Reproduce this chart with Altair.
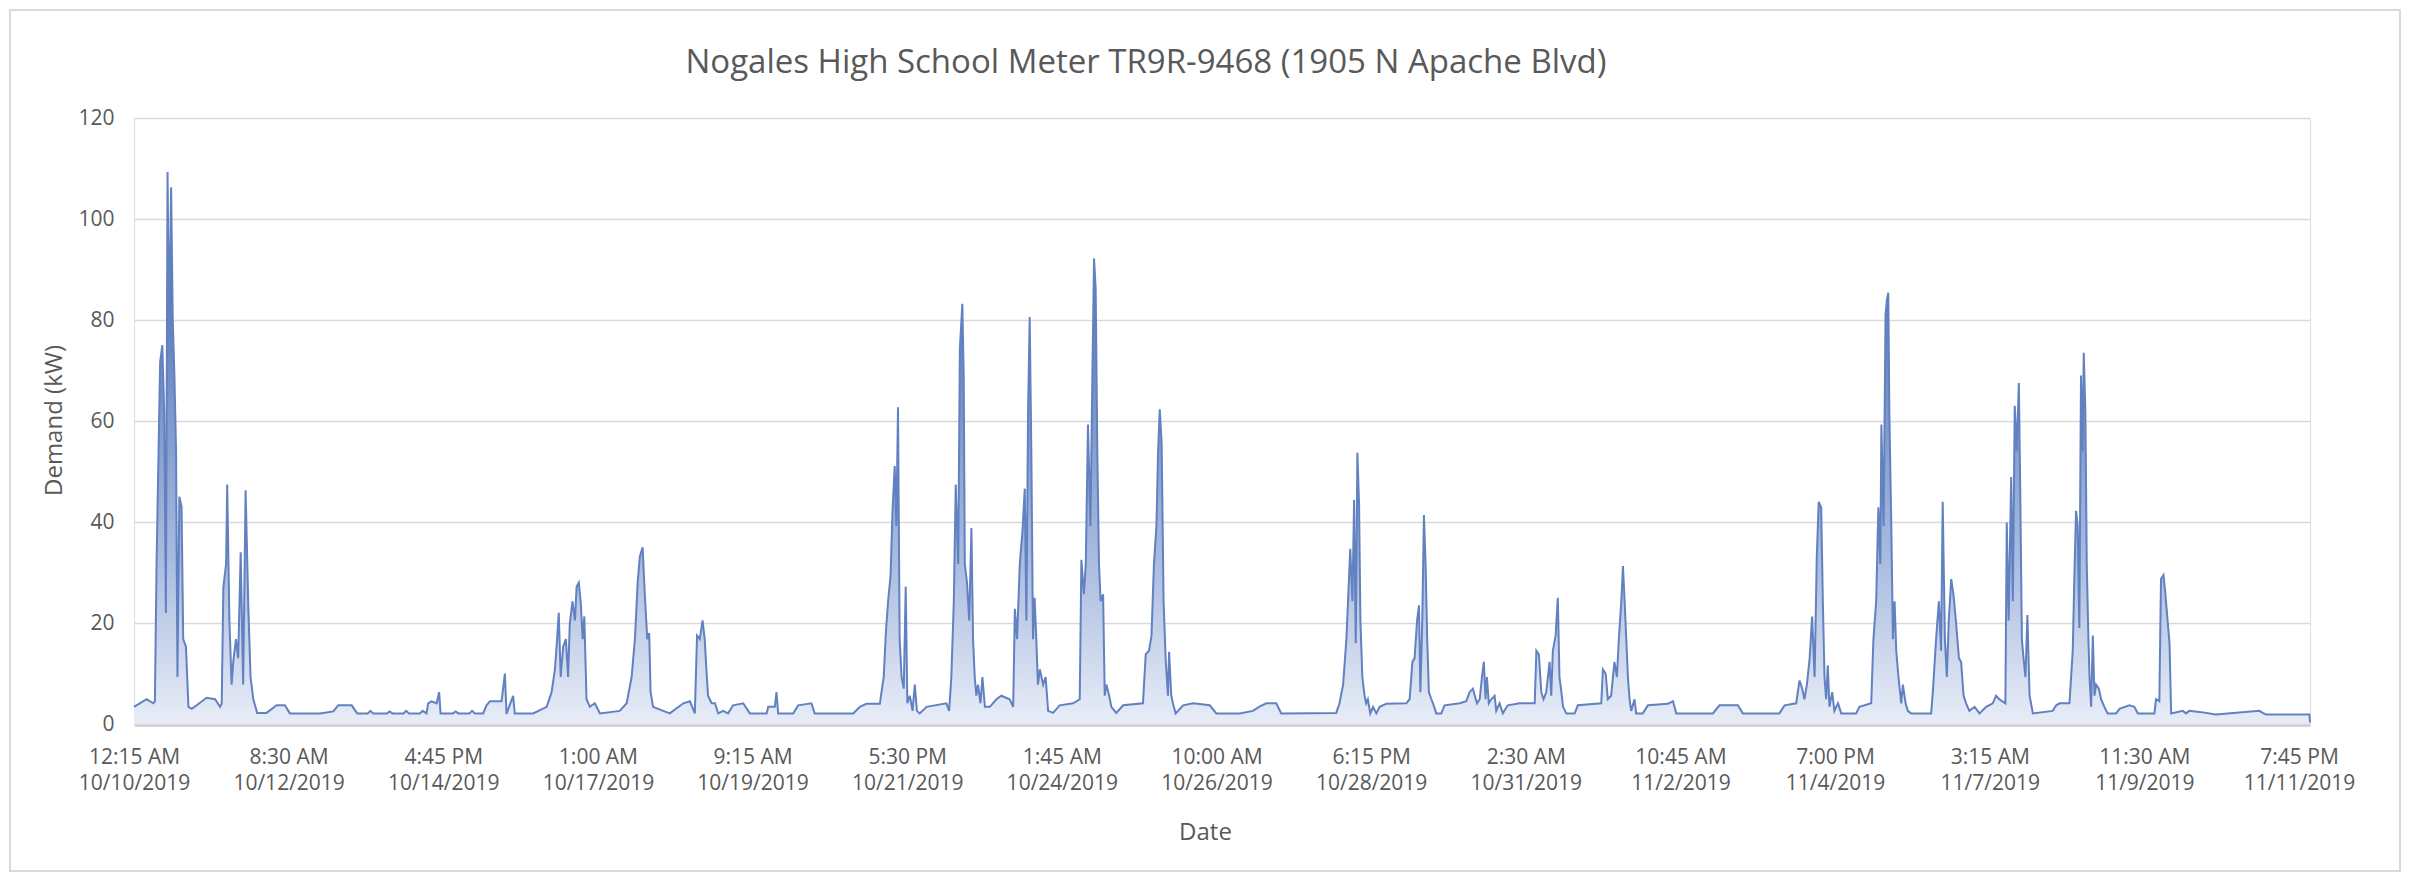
import altair as alt
import pandas as pd

# ---- data: hours after 10/10/2019 12:15 AM and demand (kW) ----
hours = [
    0, 4.6, 7.0, 7.6, 8.2, 9.5, 10.3, 11.0, 11.6, 12.2, 12.8, 13.5, 14.1, 14.7, 15.3, 15.8, 16.5, 17.3, 17.9, 18.9,
    19.8, 21.0, 22.8, 26.4, 29.5, 31.3, 31.9, 32.5, 33.5, 33.9, 34.7, 35.5, 36.1, 37.1, 37.9, 38.8, 39.7, 40.6, 41.6,
    42.4, 43.4, 44.8, 48.2, 51.9, 54.9, 56.7, 67.6, 72.5, 74.3, 79.2, 81.2, 85, 86, 87, 92, 93, 94, 98, 99, 100,
    104, 105, 106.4, 107.0, 108.2, 110.1, 111.0, 111.5, 116, 117, 118, 122, 123, 124, 127.0, 128.2, 129.5, 133.7,
    134.9, 135.5, 137.9, 138.5, 145.2, 150.1, 151.9, 153.1, 153.9, 154.5, 155.2, 156.1, 157.1, 157.9, 158.5, 159.5,
    160.4, 161.0, 161.8, 162.5, 163.2, 163.8, 164.6, 165.8, 167.6, 169.5, 176.7, 179.2, 181.0, 182.2, 183.2, 184.0,
    185.0, 185.8, 186.7, 187.4, 187.9, 188.8, 192.5, 194.9,
    199.8, 202.2, 204.0, 204.8, 205.8, 206.8, 207.6, 208.2, 208.8, 210.1, 211.3, 212.5, 214.3, 216.1, 217.9, 221.6,
    224.0, 230.1, 230.7, 233.1, 233.7, 234.3, 239.8, 241.6, 246.4, 247.6, 261.6, 264.0, 266.4, 271.3, 271.9, 272.7,
    273.5, 274.3, 275.2, 275.9, 276.7, 277.3, 277.9, 278.5, 279.2, 280.0, 280.7, 281.3, 282.2, 283.2, 284.0, 284.8,
    285.8, 288.3, 295.5, 296.5, 297.3, 298.2, 298.9, 299.8, 300.4,
    301.3, 301.8, 302.2, 303.0, 303.8, 304.6, 305.2, 305.8, 306.4, 307.0, 307.9, 308.6, 309.5, 311.3, 313.7, 315.5,
    318.5, 319.8, 320.4, 321.2, 322.2, 323.2, 324.0, 324.6, 325.2, 325.8, 326.4, 327.0, 327.6, 328.2, 328.8, 329.5,
    330.7, 331.6, 332.5, 334.3, 336.7, 341.6, 344.0, 344.6, 345.5, 346.2, 347.0, 347.9, 348.6, 349.2, 349.8, 350.4,
    351.0, 351.6, 352.5, 353.1, 353.7, 354.7, 355.5, 357.3, 359.8, 367.0, 368.0, 369.2, 370.1, 371.0, 371.9, 372.5,
    373.1, 373.8, 374.5, 375.3, 376.1, 376.5, 377.3, 377.9, 378.9, 381.6, 385.2, 391.3, 393.7,
    402.2, 407.0, 409.5, 411.9, 415.5, 417.3, 437.3, 438.5, 439.8, 441.0, 441.7, 442.4, 443.2, 443.8, 444.4, 445.0,
    445.6, 446.1, 446.8, 447.6, 448.2, 448.8, 449.7, 450.7, 451.9, 453.1, 455.5, 462.8, 464.0, 465.0, 465.8, 466.7,
    467.4, 467.9, 468.6, 469.2, 469.8, 470.4, 471.0, 471.9, 472.5, 473.7, 475.5, 476.7, 482.2, 484.6, 485.8, 487.0,
    488.5, 489.5, 490.3, 491.0, 491.6, 492.1, 492.8, 493.7, 494.9, 495.5, 496.7, 497.9, 499.7,
    504.0, 509.5, 510.1, 511.0, 511.9, 512.7, 513.7, 514.9, 515.5, 516.1, 517.1, 517.9, 518.5, 519.2, 519.8, 521.0,
    524.0, 525.2, 533.7, 534.3, 535.3, 536.1, 537.3, 538.5, 539.4, 540.1, 541.0, 541.6, 542.2, 542.8, 543.4, 544.0,
    544.6, 545.8, 546.4, 548.8, 550.7, 557.9, 559.8, 561.0, 574.3, 576.7, 583.4, 585.2, 598.5, 600.4, 604.6,
    605.8, 606.8, 607.6, 608.5, 609.5, 610.4, 611.3, 612.1, 612.8, 613.7, 614.3, 614.9, 615.5, 616.1, 616.7, 617.7,
    618.5, 619.8, 621.0, 626.4, 627.6, 631.9, 632.7, 633.7, 634.5, 635.2, 635.6, 636.4, 637.1, 637.6, 638.1, 638.5,
    639.2, 639.8, 640.4, 641.0, 641.8, 642.8, 643.4, 644.4, 645.2, 646.4, 653.7, 654.3, 655.5, 656.5, 657.3, 657.9,
    658.7, 659.4, 660.1, 661.0, 661.8, 662.8, 663.8, 664.6, 665.5, 666.4, 667.6, 669.5, 671.3, 673.7, 676.1, 677.3,
    678.5, 680.7, 681.2, 681.9, 682.8, 683.4, 684.1, 684.8, 685.6, 686.1, 686.7, 687.3, 688.0, 688.7, 689.5, 690.7,
    697.9, 699.2,
    700.4, 704.0, 705.2, 705.8, 706.4, 707.0, 707.6, 708.2, 708.8, 709.2, 709.8, 710.3, 710.9, 711.3, 711.9, 712.5,
    713.1, 713.7, 714.7, 715.5, 716.7, 717.9, 721.0, 722.2, 725.8, 727.6, 728.9, 734.9, 735.5, 736.7, 737.3, 738.2,
    738.9, 739.7, 740.4, 741.0, 745.2, 746.4, 747.6, 751.3, 757.3, 773.1, 774.3, 775.5, 791.3, 791.5,
]
demand_kw = [
    3.4, 4.9, 4.1, 4.5, 31.7, 71.6, 75, 61.6, 22, 109.3, 76.5, 106.3, 80, 69, 54, 9.3, 45, 43, 16.8, 15.3,
    3.4, 3.0, 3.7, 5.2, 4.9, 3.4, 4.0, 27, 31.7, 47.4, 20.5, 7.8, 12.3, 16.8, 13, 34, 7.8, 46.3, 22.8,
    9.3, 4.9, 2.2, 2.2, 3.7, 3.7, 2.1, 2.1, 2.5, 3.7, 3.7, 2.1, 2.1, 2.6, 2.1, 2.1, 2.5, 2.1, 2.1, 2.6, 2.1,
    2.1, 2.6, 2.1, 4.1, 4.5, 4.1, 6.3, 2.1, 2.1, 2.5, 2.1, 2.1, 2.6, 2.1, 2.1, 3.7, 4.5, 4.5,
    10, 2.0, 5.6, 2.1, 2.1, 3.4, 6.3, 10.8, 16.8, 22, 9.3, 15.3, 16.8, 9.3, 19.8, 24.3,
    20.5, 27.2, 28, 24, 16.8, 21.3, 4.9, 3.4, 4.1, 2.1, 2.6, 4.1, 9.3, 16.8, 28, 33.2,
    35, 25.7, 16.8, 18, 6.3, 3.4, 2.6, 2.1,
    4.1, 4.5, 2.1, 17.5, 16.8, 20.5, 16.8, 10.8, 5.6, 4.1, 4.1, 2.1, 2.6, 2.1, 3.7, 4.1,
    2.1, 2.1, 3.4, 3.4, 6.3, 2.1, 2.1, 3.7, 4.1, 2.1, 2.1, 3.4, 4.0, 4.0, 6.3, 9.3,
    18.3, 24.3, 29.5, 42.2, 51.1, 39.2, 62.7, 16.8, 9.3, 7, 27.2, 4.1, 5.6, 2.6, 7.8, 2.6,
    2.1, 3.4, 4.1, 2.6, 9.3, 24.3, 47.4, 31.7, 74.3,
    83.2, 69, 31.7, 28, 20.5, 38.8, 16.8, 9.3, 5.6, 7.8, 4.1, 9.3, 3.4, 3.4, 4.9, 5.6,
    4.9, 3.4, 22.8, 16.8, 31.7, 38.4, 46.6, 20.5, 61.6, 80.6, 54, 16.8, 25, 16.8, 7.8, 10.8,
    7.8, 9.3, 2.6, 2.2, 3.7, 4.1, 4.9, 32.5, 25.7, 31.7, 59.3, 39.2, 69, 92.2, 86.2, 54,
    31.7, 24.3, 25.7, 5.6, 7.8, 5.6, 3.4, 2.2, 3.7, 4.1, 13.8, 14.5, 17.5, 31.7, 39.2, 54,
    62.3, 55.6, 24.3, 12.3, 5.6, 14.3, 5.6, 4.1, 2.1, 3.7, 4.1, 3.7, 2.1,
    2.1, 2.6, 3.5, 4.1, 4.1, 2.1, 2.2, 4.1, 7.8, 16.8, 25.7, 34.7, 24.3, 44.4, 16, 53.7,
    43.7, 20.5, 9.3, 5.6, 4.1, 4.9, 2.1, 3.4, 2.1, 3.4, 4.0, 4.1, 4.9, 12.3, 13, 20.5,
    23.5, 6.3, 20.5, 41.4, 31.7, 16.8, 6.3, 4.9, 4.1, 2.1, 2.1, 3.7, 4.1, 4.5, 6.3, 7,
    4.1, 4.9, 9.3, 12.3, 4.9, 9.3, 4.1, 4.9, 5.6, 2.6, 4.1, 2.1, 3.7,
    4.1, 4.1, 14.5, 13.8, 6.3, 4.9, 6.3, 12.3, 5.6, 14.5, 17.5, 25, 9.3, 6.3, 3.4, 2.1,
    2.1, 3.7, 4.1, 10.8, 10, 4.9, 5.6, 12.3, 9.3, 16.8, 24.3, 31.3, 24.3, 16.8, 9.3, 4.9,
    2.6, 4.9, 2.1, 2.1, 3.7, 4.0, 4.5, 2.1, 2.1, 3.7, 3.7, 2.1, 2.1, 3.7, 4.1,
    8.6, 7, 4.9, 7.8, 13, 21.3, 9.3, 33.2, 44, 42.9, 24.3, 9.3, 4.9, 11.6, 3.4, 6.3,
    2.6, 4.1, 2.1, 2.1, 3.4, 4.1, 16.8, 24.3, 42.9, 31.7, 59.3, 39.2, 81, 84, 85.4, 61.6,
    39.2, 16.8, 24.3, 14.5, 9.3, 4.1, 7.8, 4.1, 2.6, 2.1, 2.1, 6.3, 16.8, 24.3, 14.5, 44,
    16.8, 9.3, 20.5, 28.7, 25.7, 19.8, 13, 12.3, 5.6, 4.1, 2.6, 3.4, 2.1, 3.4, 4.1, 5.6,
    4.9, 4.1, 39.9, 20.5, 48.9, 24.3, 63, 54, 67.5, 46.6, 16.8, 13, 9.3, 21.6, 5.6, 2.1,
    2.6, 3.7,
    4.1, 4.1, 14.5, 29.5, 42.2, 39.2, 19, 69, 54, 73.5, 61.6, 31.7, 16.8, 9.3, 3.4, 17.5,
    5.6, 7.8, 7, 4.9, 3.4, 2.1, 2.1, 3, 3.7, 3.4, 2.1, 2.1, 4.9, 4.5, 28.7, 29.5,
    25.7, 20.5, 16, 2.1, 2.6, 2.1, 2.6, 2.4, 1.9, 2.6, 2.2, 1.9, 1.9, 0.3,
]

start = pd.Timestamp("2019-10-10 00:15")
label_step_hours = 56.25          # Excel shows every 225th 15-minute reading
label_count = 15
y_ticks = [0, 20, 40, 60, 80, 100, 120]

ms_per_hour = 3600 * 1000
t0 = int(start.value // 10**6)
df = pd.DataFrame({
    "t": [t0 + h * ms_per_hour for h in hours],
    "kw": demand_kw,
})
x_tick_values = [t0 + k * label_step_hours * ms_per_hour for k in range(label_count)]
x_domain = [t0, t0 + hours[-1] * ms_per_hour]

font = "Open Sans"
grey = "#595959"

x_enc = alt.X(
    "t:T",
    scale=alt.Scale(type="utc", domain=x_domain, nice=False),
    axis=alt.Axis(
        values=x_tick_values,
        labelExpr="[utcFormat(datum.value, '%-I:%M %p'), utcFormat(datum.value, '%-m/%-d/%Y')]",
        labelAngle=0,
        labelAlign="center",
        labelBaseline="top",
        labelPadding=22,
        labelLineHeight=26,
        labelFontSize=21,
        labelFont=font,
        labelColor=grey,
        labelOverlap=False,
        labelFlush=False,
        ticks=False,
        tickSize=0,
        grid=False,
        domainColor="#d4d4d4",
        domainWidth=5,
        title="Date",
        titleFont=font,
        titleFontSize=24,
        titleFontWeight="normal",
        titleColor=grey,
        titleX=1071,
        titleY=108,
        titleBaseline="middle",
    ),
)
y_enc = alt.Y(
    "kw:Q",
    scale=alt.Scale(domain=[0, 120], nice=False),
    axis=alt.Axis(
        values=y_ticks,
        labelFontSize=21,
        labelFont=font,
        labelColor=grey,
        labelPadding=20,
        ticks=False,
        tickSize=0,
        domain=False,
        grid=True,
        gridColor="#d9d9d9",
        gridWidth=1.6,
        title="Demand (kW)",
        titleFont=font,
        titleFontSize=24,
        titleFontWeight="normal",
        titleColor=grey,
        titleX=-80,
        titleY=302,
        titleBaseline="middle",
    ),
)

area = alt.Chart(df).mark_area(
    interpolate="linear",
    color=alt.Gradient(
        gradient="linear",
        stops=[
            alt.GradientStop(color="#e8edf7", offset=0),
            alt.GradientStop(color="#a9bbe0", offset=0.3),
            alt.GradientStop(color="#355ca8", offset=1),
        ],
        x1=1, x2=1, y1=1, y2=0,
    ),
).encode(x=x_enc, y=y_enc)

line = alt.Chart(df).mark_line(
    interpolate="linear", color="#6281c0", strokeWidth=2
).encode(x="t:T", y="kw:Q")

# light frame around the whole chart area (decoration only)
frame = alt.Chart(df).mark_rect(
    fill="transparent", stroke="#d9d9d9", strokeWidth=2
).encode(
    x=alt.value(-124), x2=alt.value(2266), y=alt.value(-108), y2=alt.value(753)
)

chart = alt.layer(frame, area, line).properties(
    width=2176,
    height=606,
    padding={"left": 126, "top": 110, "right": 92, "bottom": 148},
    autosize=alt.AutoSizeParams(type="none"),
    title=alt.TitleParams(
        text="Nogales High School Meter TR9R-9468 (1905 N Apache Blvd)",
        font=font,
        fontSize=33,
        fontWeight="normal",
        color=grey,
        anchor="middle",
        frame="group",
        dx=-76,
        offset=-71,
    ),
).configure_view(strokeOpacity=0).configure(background="white")

chart.save("out.html", embed_options={"renderer": "svg", "actions": False})
